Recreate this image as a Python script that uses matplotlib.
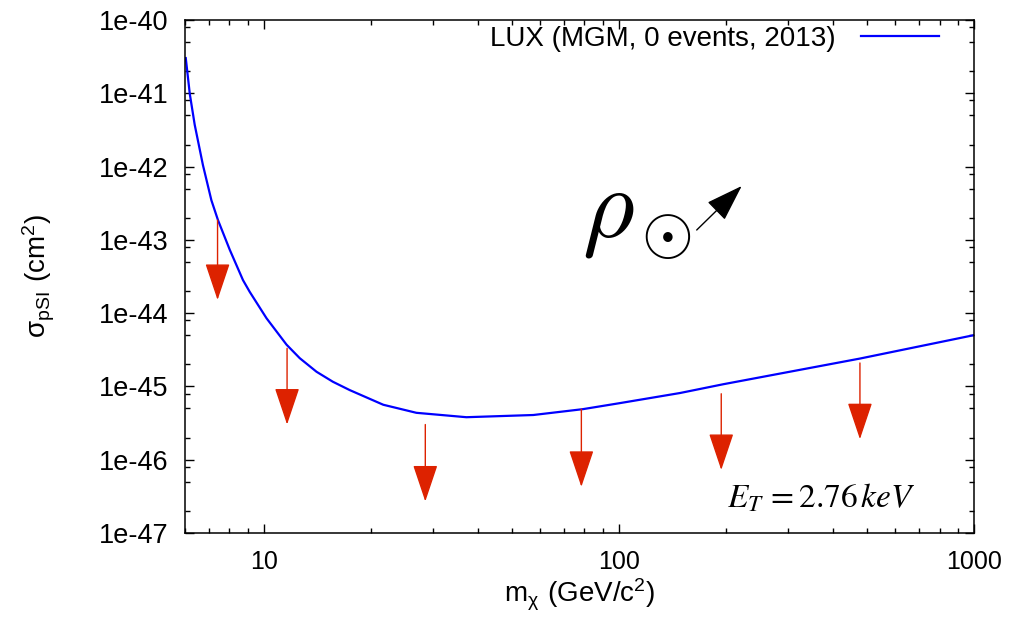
import numpy as np
import matplotlib
matplotlib.use("Agg")
import matplotlib.pyplot as plt
from matplotlib.ticker import LogLocator, FixedLocator, NullFormatter

# ---- data ----
mass = [6.03, 6.19, 6.39, 6.74, 7.12, 7.43, 8.02, 8.74, 9.13, 10.18, 11.59,
        12.63, 14.08, 15.65, 17.46, 21.7, 26.9, 33.4, 37.2, 57.4, 79.2, 100,
        148.6, 196.8, 477, 912, 1000]
log_sigma = [-40.52, -41.01, -41.43, -41.98, -42.46, -42.73, -43.135, -43.55,
             -43.71, -44.07, -44.43, -44.615, -44.80, -44.936, -45.05, -45.25,
             -45.36, -45.40, -45.42, -45.39, -45.31, -45.23, -45.09, -44.97,
             -44.62, -44.34, -44.30]
sigma = [10.0 ** v for v in log_sigma]

arrow_mass = [7.41, 11.63, 28.5, 78.4, 194.2, 477.3]
arrow_top = [-42.73, -44.48, -45.52, -45.31, -45.10, -44.68]
arrow_tip = [-43.82, -45.52, -46.57, -46.37, -46.14, -45.72]

x_ticks = [10, 100, 1000]
x_tick_labels = ["10", "100", "1000"]
y_ticks = [1e-47, 1e-46, 1e-45, 1e-44, 1e-43, 1e-42, 1e-41, 1e-40]
y_tick_labels = ["1e-47", "1e-46", "1e-45", "1e-44", "1e-43", "1e-42",
                 "1e-41", "1e-40"]

legend_label = "LUX (MGM, 0 events, 2013)"
xlabel = r"$\mathregular{m_{χ}\ (GeV/c^{2})}$"
ylabel = r"$\mathregular{σ_{pSI}\ (cm^{2})}$"
et_text = r"$E_{T}\,\mathrm{=2.76}\,keV$"

plt.rcParams["font.family"] = ["Liberation Sans", "DejaVu Sans"]
plt.rcParams["mathtext.default"] = "it"

fig = plt.figure(figsize=(10.13, 6.19), dpi=100)
ax = fig.add_axes([185 / 1013, 1 - 533 / 619, (974 - 185) / 1013, (533 - 20) / 619])

ax.plot(mass, sigma, color="#0000ff", lw=1.6, label=legend_label)

for xm, top, tip in zip(arrow_mass, arrow_top, arrow_tip):
    ax.annotate("", xy=(xm, 10.0 ** tip), xytext=(xm, 10.0 ** top),
                arrowprops=dict(arrowstyle="-|>,head_length=23.5,head_width=7.9",
                                mutation_scale=1, color="#dd2200", lw=1.0,
                                shrinkA=0, shrinkB=0))

ax.set_xscale("log")
ax.set_yscale("log")
ax.set_xlim(6, 1000)
ax.set_ylim(1e-47, 1e-40)

ax.yaxis.set_major_locator(FixedLocator(y_ticks))
ax.set_yticklabels(y_tick_labels)
ax.yaxis.set_minor_locator(LogLocator(base=10, subs=(2, 5, 8), numticks=20))
ax.yaxis.set_minor_formatter(NullFormatter())
ax.xaxis.set_major_locator(FixedLocator(x_ticks))
ax.set_xticklabels(x_tick_labels)
ax.xaxis.set_minor_locator(LogLocator(base=10, subs=np.arange(2, 10), numticks=20))
ax.xaxis.set_minor_formatter(NullFormatter())

ax.tick_params(which="both", direction="in", top=True, right=True, width=1.0)
ax.tick_params(which="major", length=6.5, pad=12)
ax.tick_params(which="minor", length=3.5)
ax.tick_params(axis="y", labelsize=19.5)
ax.tick_params(axis="x", labelsize=18)
for s in ax.spines.values():
    s.set_linewidth(1.1)

ax.set_xlabel(xlabel, fontsize=20, labelpad=2)
ax.set_ylabel(ylabel, fontsize=20, labelpad=30)

ax.legend(loc="upper right", bbox_to_anchor=(0.9696, 1.0097), borderaxespad=0,
          frameon=False, markerfirst=False, handlelength=2.81,
          handletextpad=0.9, fontsize=20)

ax.text(0.503, 0.577, r"$\rho$", transform=ax.transAxes, fontsize=72,
        math_fontfamily="cm", ha="left", va="baseline")
ax.text(0.6096, 0.579, r"$\odot$", transform=ax.transAxes, fontsize=48,
        math_fontfamily="cm", ha="center", va="center")
ax.annotate("", xy=((741.7 - 185) / 789, (533 - 186) / 513),
            xytext=((696.7 - 185) / 789, (533 - 230) / 513),
            xycoords="axes fraction", textcoords="axes fraction",
            arrowprops=dict(arrowstyle="-|>,head_length=23.5,head_width=7.9",
                            mutation_scale=1, color="black", lw=1.0,
                            shrinkA=0, shrinkB=0))

ax.text(727 / 1013, 1 - 508 / 619, et_text, transform=fig.transFigure,
        fontsize=24, math_fontfamily="stix", ha="left", va="baseline")

fig.savefig("out.png", dpi=100)
